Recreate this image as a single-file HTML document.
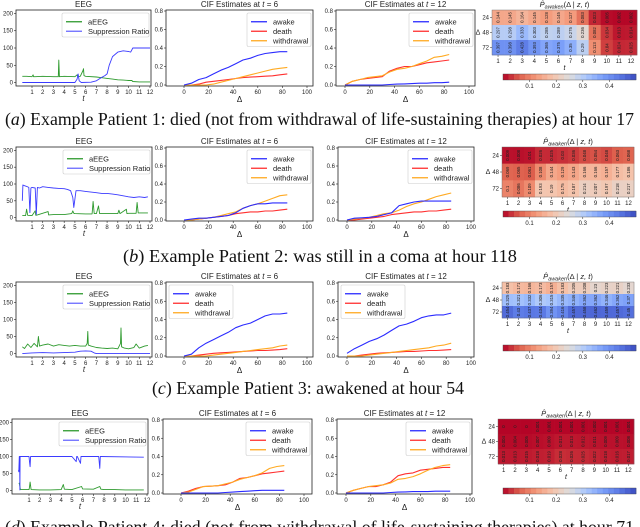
<!DOCTYPE html>
<html><head><meta charset="utf-8"><style>
html,body{margin:0;padding:0;background:#fff;}
svg{display:block;font-family:"Liberation Sans","DejaVu Sans",sans-serif;}
</style></head><body>
<svg id="fig" width="640" height="527" viewBox="0 0 640 527" xmlns="http://www.w3.org/2000/svg">
<rect x="0" y="0" width="640" height="527" fill="#fff"/>
<g font-family="Liberation Serif, serif" font-size="17.5" fill="#111">
<text x="5" y="125" textLength="629" lengthAdjust="spacingAndGlyphs">(<tspan font-style="italic">a</tspan>) Example Patient 1: died (not from withdrawal of life-sustaining therapies) at hour 17</text>
<text x="123" y="262" textLength="394" lengthAdjust="spacingAndGlyphs">(<tspan font-style="italic">b</tspan>) Example Patient 2: was still in a coma at hour 118</text>
<text x="152" y="394" textLength="312" lengthAdjust="spacingAndGlyphs">(<tspan font-style="italic">c</tspan>) Example Patient 3: awakened at hour 54</text>
<text x="5" y="533" textLength="629" lengthAdjust="spacingAndGlyphs">(<tspan font-style="italic">d</tspan>) Example Patient 4: died (not from withdrawal of life-sustaining therapies) at hour 71</text>
</g>
</svg>
<script>
// ---------- DATA ----------
const hourTicks=[1,2,3,4,5,6,7,8,9,10,11,12];
const eegTicks=[0,50,100,150,200];
const cifXTicks=[0,20,40,60,80,100];
const cifYTicks=[0.0,0.2,0.4,0.6,0.8];
const cbTicks=[0.1,0.2,0.3,0.4];
const deltas=[0,6,12,18,24,30,36,42,48,54,60,66,72,78,84];
const heatRowsLabels=[24,48,72];

// Patient 1
const aT_a=[0.1,0.5,1,1.1,1.15,1.3,2,3,3.45,3.5,3.55,4,5,5.2,5.3,5.5,5.75,5.8,5.85,6,7,7.5,8,8.5,9,9.5,10,10.3,10.4,11,12];
const aV_a=[18,18,17,22,17,17,18,17,17,65,17,18,17,22,17,18,35,40,20,18,16,14,12,10,8,7,6,6,3,2,2];
const sT_a=[0.1,5,5.2,5.3,5.4,5.6,6.5,7,7.5,7.8,8,8.2,8.5,9,9.5,10,10.2,10.4,11,12];
const sV_a=[0,0,10,25,5,0,1,5,15,20,25,50,75,88,92,90,88,100,100,100];
const c6awake_a=[0,.02,.06,.08,.12,.16,.19,.23,.27,.29,.32,.34,.35,.36,.36];
const c6death_a=[0,0,.01,.03,.04,.05,.06,.07,.08,.085,.09,.095,.10,.11,.12];
const c6withd_a=[0,0,0,0,.01,.03,.05,.07,.09,.11,.13,.15,.17,.18,.19];
const c12awake_a=[0,0,0,0,0,0,.005,.01,.012,.015,.02,.02,.025,.025,.03];
const c12death_a=[0,.04,.06,.07,.08,.09,.15,.18,.20,.20,.22,.24,.25,.26,.27];
const c12withd_a=[0,.04,.06,.08,.09,.10,.14,.17,.18,.20,.23,.26,.30,.31,.33];
const heat_a=[[.144,.145,.164,.145,.128,.145,.127,.083,.023,.005,.002,.002],
 [.297,.298,.333,.303,.285,.289,.275,.236,.082,.034,.013,.014],
 [.397,.398,.428,.393,.365,.375,.35,.29,.113,.04,.024,.025]];

// Patient 2
const aT_b=[0.1,0.4,0.5,0.6,1,1.3,1.35,1.5,2.5,2.55,3,4,4.7,4.8,4.9,5,6,6.6,6.7,6.8,7,7.2,7.3,8,9,9.1,9.2,9.8,9.85,10,10.7,10.8,10.9,11.8];
const aV_b=[6,6,25,7,6,20,7,8,18,8,9,9,12,20,13,12,11,11,48,12,12,35,12,12,12,22,12,25,12,13,13,45,14,14];
const sT_b=[0.1,0.15,0.3,0.5,0.7,0.8,0.9,1.0,1.3,1.4,1.5,1.7,2,2.5,3,3.5,4,4.3,4.6,4.8,4.9,5.1,5.5,6,6.5,7,7.5,8,8.5,9,9.5,10,10.5,11,11.5,11.8];
const sV_b=[50,97,95,93,90,15,88,90,88,10,90,88,92,90,88,87,86,84,80,60,30,80,80,78,76,74,72,72,70,68,65,62,60,62,60,62];
const c6awake_b=[0,.01,.02,.02,.03,.04,.05,.08,.13,.16,.18,.18,.19,.19,.19];
const c6death_b=[0,0,.01,.02,.03,.04,.05,.07,.08,.09,.09,.10,.10,.11,.12];
const c6withd_b=[0,0,.01,.02,.03,.05,.07,.09,.13,.16,.18,.21,.24,.27,.28];
const c12awake_b=[0,.02,.025,.03,.04,.06,.08,.16,.18,.20,.21,.21,.21,.21,.21];
const c12death_b=[0,0,.01,.02,.03,.04,.06,.07,.08,.09,.09,.10,.10,.11,.12];
const c12withd_b=[0,.01,.02,.03,.05,.07,.08,.11,.15,.18,.20,.23,.26,.28,.30];
const heat_b=[[.009,.008,.01,.026,.025,.03,.036,.048,.054,.048,.063,.068],
 [.069,.065,.061,.108,.144,.129,.143,.166,.166,.157,.177,.186],
 [.1,.086,.109,.193,.19,.175,.187,.214,.207,.197,.218,.217]];

// Patient 3
const aT_c=[0.1,0.3,0.6,0.9,1.2,1.5,1.6,1.7,2,2.5,3,3.5,4,4.5,5,5.5,6,6.15,6.2,6.25,6.5,7,7.5,8,8.5,9,9.25,9.3,9.35,9.6,10,10.5,10.7,11,11.5,11.8];
const aV_c=[20,15,28,18,30,20,50,22,25,28,22,26,24,22,24,22,22,30,65,25,22,18,16,15,16,14,30,75,20,16,14,18,28,16,22,24];
const sT_c=[0.1,1,2,3,4,5,5.5,6,6.5,6.8,7,8,12];
const sV_c=[0,2,3,2,3,4,7,8,7,2,0,0,0];
const c6awake_c=[0,.02,.09,.14,.18,.22,.26,.31,.34,.36,.40,.44,.46,.46,.47];
const c6death_c=[0,0,.01,.02,.03,.035,.04,.045,.05,.055,.06,.06,.065,.07,.08];
const c6withd_c=[0,0,0,0,.01,.02,.03,.04,.05,.06,.07,.08,.09,.11,.12];
const c12awake_c=[.03,.08,.12,.16,.19,.23,.28,.33,.35,.38,.42,.44,.45,.45,.47];
const c12death_c=[0,0,.01,.02,.03,.035,.04,.045,.05,.05,.055,.06,.06,.065,.07];
const c12withd_c=[0,0,0,.01,.02,.03,.04,.05,.06,.07,.08,.09,.11,.12,.14];
const heat_c=[[.183,.171,.166,.173,.157,.183,.205,.208,.23,.223,.221,.233],
 [.325,.321,.332,.306,.315,.335,.346,.362,.362,.346,.362,.37],
 [.454,.43,.437,.434,.394,.416,.457,.458,.462,.459,.457,.45]];

// Patient 4
const aT_d=[0.05,0.1,0.2,1,1.05,1.1,1.2,2,3,4,4.2,4.3,5,5.9,6,7,7.6,7.7,8,9,10,11,11.7];
const aV_d=[20,22,3,3,10,25,3,2,2,3,18,4,3,12,5,4,12,4,3,3,2,2,2];
const sT_d=[0.02,0.05,0.1,0.12,0.15,0.17,0.2,1,1.05,1.1,1.15,1.3,5,5.4,5.45,5.5,5.8,5.85,5.9,7.5,7.6,7.65,7.7,11.7];
const sV_d=[60,55,100,100,2,100,100,100,85,70,100,100,100,85,100,100,80,100,100,100,65,100,100,98];
const c6awake_d=[0,0,0,0,0,0,.005,.01,.015,.02,.025,.03,.03,.03,.03];
const c6death_d=[0,.02,.05,.07,.075,.08,.09,.12,.16,.17,.19,.21,.22,.23,.24];
const c6withd_d=[0,.01,.04,.07,.075,.08,.10,.12,.15,.17,.19,.22,.27,.29,.30];
const c12awake_d=[0,0,0,0,0,0,.005,.01,.012,.015,.015,.015,.02,.02,.02];
const c12death_d=[0,.03,.05,.07,.07,.09,.12,.19,.21,.22,.25,.26,.27,.28,.28];
const c12withd_d=[0,.03,.05,.07,.08,.09,.11,.15,.16,.18,.21,.25,.28,.30,.31];
const heat_d=[[.0,.0,.0,.001,.001,.001,.001,.001,.002,.001,.001,.001],
 [.004,.004,.005,.007,.009,.013,.013,.012,.011,.009,.009,.008],
 [.013,.013,.015,.018,.019,.028,.026,.025,.022,.018,.016,.017]];

// ---------- DRAWING ----------
const NS='http://www.w3.org/2000/svg';
const svg=document.getElementById('fig');
function mk(tag,attrs,parent){const e=document.createElementNS(NS,tag);for(const k in attrs)e.setAttribute(k,attrs[k]);(parent||svg).appendChild(e);return e;}
function txt(s,x,y,attrs,parent){const e=mk('text',Object.assign({x:x,y:y},attrs),parent);e.textContent=s;return e;}
function lin(d0,d1,p0,p1){return v=>p0+(v-d0)/(d1-d0)*(p1-p0);}
function poly(xs,ys,fx,fy,color,w,parent,name){
  const pts=xs.map((x,i)=>fx(x).toFixed(1)+','+fy(ys[i]).toFixed(1)).join(' ');
  const e=mk('polyline',{points:pts,fill:'none',stroke:color,'stroke-width':w,'stroke-linejoin':'round'},parent);
  
  
  return e;
}
function frame(g,L,T,R,B){
  const f=mk('rect',{x:L,y:T,width:R-L,height:B-T,fill:'none',stroke:'#222','stroke-width':0.8},g);
  
  
}
function legend(g,x,y,w,items,fs,sp){
  const lg=mk('g',{},g);
  
  
  mk('rect',{x:x,y:y,width:w,height:items.length*sp+5,fill:'#fff',stroke:'#ccc','stroke-width':0.6,rx:1.5},lg);
  items.forEach((it,i)=>{
    const yy=y+4+sp*(i+0.5);
    const en=mk('g',{},lg);
    
    
    mk('line',{x1:x+4,x2:x+20,y1:yy,y2:yy,stroke:it[1],'stroke-width':1.3},en);
    txt(it[0],x+26,yy+fs*0.35,{'font-size':fs,fill:'#222'},en);
  });
}
function eegPanel(c,aT,aV,sT,sV){
  const g=mk('g',{});
  
  
  const fx=lin(1,12,c.x1,c.x12), fy=lin(-10,210,c.B,c.T);
  txt('EEG',(c.L+c.R)/2,c.T-3,{'font-size':8,'text-anchor':'middle',fill:'#222'},g);
  hourTicks.forEach(t=>{mk('line',{x1:fx(t),x2:fx(t),y1:c.B,y2:c.B+2,stroke:'#222','stroke-width':0.6},g);
    txt(String(t),fx(t),c.B+8,{'font-size':6,'text-anchor':'middle',fill:'#222'},g);});
  eegTicks.forEach(v=>{mk('line',{x1:c.L-2,x2:c.L,y1:fy(v),y2:fy(v),stroke:'#222','stroke-width':0.6},g);
    txt(String(v),c.L-3,fy(v)+2,{'font-size':6,'text-anchor':'end',fill:'#222'},g);});
  txt('t',(c.L+c.R)/2,c.B+15,{'font-size':8,'font-style':'italic','text-anchor':'middle',fill:'#222'},g);
  poly(aT,aV,fx,fy,'#2e9a2e',0.9,g,'aeeg-line');
  poly(sT,sV,fx,fy,'#3b3bff',0.9,g,'suppression-ratio-line');
  frame(g,c.L,c.T,c.R,c.B);
  legend(g,c.R-89,c.T+3,87,[['aEEG','#2e9a2e'],['Suppression Ratio','#6a6aff']],7.5,9.5);
}
function cifPanel(c,title,aw,de,wd){
  const g=mk('g',{});
  
  
  const fx=lin(0,100,c.x0,c.x100), fy=lin(0,0.8,c.B-1,c.T+1);
  const tt=txt('CIF Estimates at ',(c.L+c.R)/2,c.T-3,{'font-size':8,'text-anchor':'middle',fill:'#222'},g);
  const ts=mk('tspan',{'font-style':'italic'},tt); ts.textContent='t';
  const ts2=mk('tspan',{},tt); ts2.textContent=' = '+title;
  cifXTicks.forEach(v=>{mk('line',{x1:fx(v),x2:fx(v),y1:c.B,y2:c.B+2,stroke:'#222','stroke-width':0.6},g);
    txt(String(v),fx(v),c.B+8,{'font-size':6,'text-anchor':'middle',fill:'#222'},g);});
  cifYTicks.forEach(v=>{mk('line',{x1:c.L-2,x2:c.L,y1:fy(v),y2:fy(v),stroke:'#222','stroke-width':0.6},g);
    txt(v.toFixed(1),c.L-3,fy(v)+2,{'font-size':6,'text-anchor':'end',fill:'#222'},g);});
  txt('Δ',(c.L+c.R)/2,c.B+16,{'font-size':8,'text-anchor':'middle',fill:'#222'},g);
  poly(deltas,de,fx,fy,'#ff3030',1.1,g,'death-line');
  poly(deltas,wd,fx,fy,'#ffaa22',1.1,g,'withdrawal-line');
  poly(deltas,aw,fx,fy,'#2b2bff',1.1,g,'awake-line');
  frame(g,c.L,c.T,c.R,c.B);
  const lx=c.legLeft?c.L+3:c.R-66;
  legend(g,lx,c.T+3,64,[['awake','#2b2bff'],['death','#ff3030'],['withdrawal','#ffaa22']],7.5,9.5);
}
const stops=[[0,[180,4,38]],[0.125,[222,96,77]],[0.25,[244,154,123]],[0.375,[245,196,172]],[0.5,[221,221,221]],[0.625,[170,199,253]],[0.75,[123,159,249]],[0.875,[90,120,228]],[1,[59,76,192]]];
function cmap(v){let t=Math.max(0,Math.min(1,v/0.5));
  for(let i=1;i<stops.length;i++){if(t<=stops[i][0]){const a=stops[i-1],b=stops[i];const f=(t-a[0])/(b[0]-a[0]);
    const c=a[1].map((x,k)=>Math.round(x+(b[1][k]-x)*f));return 'rgb('+c.join(',')+')';}}
  return 'rgb(59,76,192)';}
function heatPanel(c,data){
  const g=mk('g',{});
  
  
  const cw=(c.R-c.L)/12, ch=(c.B-c.T)/3;
  const tt=txt('',(c.L+c.R)/2,c.T-3,{'font-size':7.5,'text-anchor':'middle',fill:'#222'},g);
  const p=mk('tspan',{'font-style':'italic'},tt); p.textContent='P̂';
  const s=mk('tspan',{'font-style':'italic','font-size':5.5,dy:1.5},tt); s.textContent='awaken';
  const r=mk('tspan',{dy:-1.5},tt); r.textContent='(Δ | ';
  const z=mk('tspan',{'font-style':'italic'},tt); z.textContent='z, t';
  const r2=mk('tspan',{},tt); r2.textContent=')';
  data.forEach((row,i)=>row.forEach((v,j)=>{
    const x=c.L+j*cw, y=c.T+i*ch;
    const cell=mk('rect',{x:x,y:y,width:cw+0.3,height:ch+0.3,fill:cmap(v)},g);
    
    
    const cx=x+cw/2, cy=y+ch/2;
    const lb=txt(String(v).replace(/^0\./,'0.'),cx,cy+1.5,{'font-size':4.3,'text-anchor':'middle',fill:'#222',transform:'rotate(-90 '+cx+' '+cy+')'},g);
    
    
  }));
  mk('rect',{x:c.L,y:c.T,width:c.R-c.L,height:c.B-c.T,fill:'none',stroke:'#666','stroke-width':0.4},g);
  hourTicks.forEach((t,j)=>{const x=c.L+(j+0.5)*cw;
    mk('line',{x1:x,x2:x,y1:c.B,y2:c.B+2,stroke:'#222','stroke-width':0.5},g);
    txt(String(t),x,c.B+8,{'font-size':6,'text-anchor':'middle',fill:'#222'},g);});
  heatRowsLabels.forEach((d,i)=>{const y=c.T+(i+0.5)*ch;
    mk('line',{x1:c.L-2,x2:c.L,y1:y,y2:y,stroke:'#222','stroke-width':0.5},g);
    txt(String(d),c.L-3,y+2,{'font-size':6,'text-anchor':'end',fill:'#222'},g);});
  txt('Δ',c.L-14,(c.T+c.B)/2+2,{'font-size':7,'text-anchor':'middle',fill:'#222'},g);
  txt('t',(c.L+c.R)/2,c.B+15,{'font-size':7,'font-style':'italic','text-anchor':'middle',fill:'#222'},g);
  // colorbar
  const cb=mk('g',{},g);
  
  
  const N=24, cx0=503, cx1=636, fx=lin(0,0.5,cx0,cx1);
  for(let k=0;k<N;k++){const v=(k+0.5)/N*0.5;
    mk('rect',{x:cx0+k*(cx1-cx0)/N,y:c.cbY,width:(cx1-cx0)/N+0.3,height:6,fill:cmap(v)},cb);}
  mk('rect',{x:cx0,y:c.cbY,width:cx1-cx0,height:6,fill:'none',stroke:'#444','stroke-width':0.4},cb);
  cbTicks.forEach(v=>{mk('line',{x1:fx(v),x2:fx(v),y1:c.cbY+6,y2:c.cbY+8,stroke:'#222','stroke-width':0.5},cb);
    txt(String(v),fx(v),c.cbY+14,{'font-size':6,'text-anchor':'middle',fill:'#222'},cb);});
}

// panels layout
const rowsCfg=[
 {T:10,B:86,eL:16,eR:151,ex1:32,ex12:150,c6L:166,c6R:313,c12L:336,c12R:475,hL:492,hR:637,hT:10,hB:55,cb:74,leg6:false,leg12:false},
 {T:147,B:221,eL:16,eR:152,ex1:32,ex12:150,c6L:166,c6R:313,c12L:338,c12R:474,hL:502,hR:634,hT:147,hB:197,cb:211,leg6:false,leg12:false},
 {T:282,B:357,eL:16,eR:152,ex1:32,ex12:150,c6L:166,c6R:313,c12L:338,c12R:474,hL:502,hR:634,hT:282,hB:318,cb:345,leg6:true,leg12:true},
 {T:419,B:494,eL:12,eR:148,ex1:29,ex12:147,c6L:163,c6R:312,c12L:337,c12R:472,hL:498,hR:634,hT:419,hB:464,cb:488,leg6:false,leg12:false}];
const eegData=[[aT_a,aV_a,sT_a,sV_a],[aT_b,aV_b,sT_b,sV_b],[aT_c,aV_c,sT_c,sV_c],[aT_d,aV_d,sT_d,sV_d]];
const cif6=[[c6awake_a,c6death_a,c6withd_a],[c6awake_b,c6death_b,c6withd_b],[c6awake_c,c6death_c,c6withd_c],[c6awake_d,c6death_d,c6withd_d]];
const cif12=[[c12awake_a,c12death_a,c12withd_a],[c12awake_b,c12death_b,c12withd_b],[c12awake_c,c12death_c,c12withd_c],[c12awake_d,c12death_d,c12withd_d]];
const heats=[heat_a,heat_b,heat_c,heat_d];
rowsCfg.forEach((r,i)=>{
  eegPanel({L:r.eL,R:r.eR,T:r.T,B:r.B,x1:r.ex1,x12:r.ex12},...eegData[i]);
  cifPanel({L:r.c6L,R:r.c6R,T:r.T,B:r.B,x0:r.c6L+18,x100:r.c6L+141,legLeft:r.leg6},'6',...cif6[i]);
  cifPanel({L:r.c12L,R:r.c12R,T:r.T,B:r.B,x0:r.c12L+9,x100:r.c12L+133,legLeft:r.leg12},'12',...cif12[i]);
  heatPanel({L:r.hL,R:r.hR,T:r.hT,B:r.hB,cbY:r.cb},heats[i]);
});
</script>
</body></html>
